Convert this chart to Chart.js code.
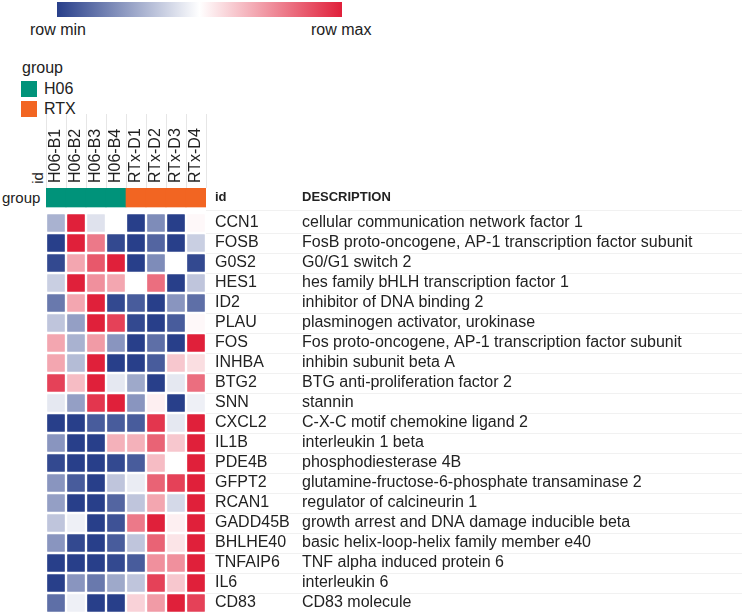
<!DOCTYPE html>
<html>
<head>
<meta charset="utf-8">
<script src="https://cdn.jsdelivr.net/npm/chart.js@4.4.1/dist/chart.umd.min.js"></script>
<style>
  body { margin: 0; background: #fff; font-family: 'Liberation Sans', Arial, sans-serif; color: #222; }
  #wrap { position: relative; width: 742px; height: 612px; overflow: hidden; }
  #heat { position: absolute; left: 0; top: 0; }
  .txt { position: absolute; font-size: 16px; line-height: 16px; white-space: nowrap; }
  .sw { position: absolute; width: 16px; height: 16px; }
  #bar { position: absolute; left: 57px; top: 2px; width: 285px; height: 15px;
         background: linear-gradient(to right, #283f8a 0%, #ffffff 50%, #e0203a 100%); }
  #idlab { transform: rotate(-90deg); transform-origin: center center; }
</style>
</head>
<body>
<div id="wrap">
  <div id="bar"></div>
  <div class="txt" style="left:30px; top:22px;">row min</div>
  <div class="txt" style="left:311px; top:22px;">row max</div>
  <div class="txt" style="left:22px; top:60px;">group</div>
  <div class="sw" style="left:21px; top:81px; background:#00937a;"></div>
  <div class="txt" style="left:44px; top:81px;">H06</div>
  <div class="sw" style="left:21px; top:101px; background:#f26522;"></div>
  <div class="txt" style="left:44px; top:101px;">RTX</div>
  <div class="txt" id="idlab" style="left:32px; top:170px; font-size:15px;">id</div>
  <div class="txt" style="left:2px; top:190px; font-size:15px;">group</div>
  <canvas id="heat" width="742" height="612"></canvas>
</div>
<script>
var samples = ['H06-B1', 'H06-B2', 'H06-B3', 'H06-B4', 'RTx-D1', 'RTx-D2', 'RTx-D3', 'RTx-D4'];
var groups = ['H06', 'H06', 'H06', 'H06', 'RTX', 'RTX', 'RTX', 'RTX'];
var groupColors = { H06: '#00937a', RTX: '#f26522' };

var genes = ['CCN1', 'FOSB', 'G0S2', 'HES1', 'ID2', 'PLAU', 'FOS', 'INHBA', 'BTG2', 'SNN',
  'CXCL2', 'IL1B', 'PDE4B', 'GFPT2', 'RCAN1', 'GADD45B', 'BHLHE40', 'TNFAIP6', 'IL6', 'CD83'];

var descriptions = [
  'cellular communication network factor 1',
  'FosB proto-oncogene, AP-1 transcription factor subunit',
  'G0/G1 switch 2',
  'hes family bHLH transcription factor 1',
  'inhibitor of DNA binding 2',
  'plasminogen activator, urokinase',
  'Fos proto-oncogene, AP-1 transcription factor subunit',
  'inhibin subunit beta A',
  'BTG anti-proliferation factor 2',
  'stannin',
  'C-X-C motif chemokine ligand 2',
  'interleukin 1 beta',
  'phosphodiesterase 4B',
  'glutamine-fructose-6-phosphate transaminase 2',
  'regulator of calcineurin 1',
  'growth arrest and DNA damage inducible beta',
  'basic helix-loop-helix family member e40',
  'TNF alpha induced protein 6',
  'interleukin 6',
  'CD83 molecule'
];

// row-scaled values, -1 = row min, 1 = row max
var expression = [
  [-0.4, 1, -0.15, 0, -1, -0.6, -1, 0.03],
  [-1, 1, 0.6, -0.95, -1, -0.8, -1, -0.25],
  [-0.95, 0.4, 0.75, 1, -1, -0.6, 0, -0.95],
  [-0.25, 1, 0.5, 0.4, 0, 0.65, -1, -0.3],
  [-0.7, 0.4, 1, -0.95, -0.85, -1, -0.55, -0.75],
  [-0.3, -0.5, 1, 0.85, -0.95, -1, -0.85, 0.03],
  [0.4, -0.4, 0.45, -0.55, -1, -0.75, -1, 1],
  [0.4, -0.35, 1, -1, -1, -0.85, 0.25, 0.15],
  [0.85, 0.3, 1, -0.12, -0.45, -1, -0.12, 0.65],
  [-0.12, -0.5, 0.9, 1, -0.55, 0.07, -1, -0.08],
  [-1, -1, -0.85, -0.85, -0.85, 0.9, -0.12, 1],
  [-0.55, -1, -1, 0.35, 0.35, 0.7, 0.25, 1],
  [-0.95, -1, -1, -0.95, -0.85, 0.3, 0, 1],
  [-0.55, -0.85, -1, -0.3, -0.1, 0.7, 0.85, 1],
  [-0.5, -1, -1, -0.8, -0.3, 0.4, -0.2, 1],
  [-0.3, -0.08, -1, -0.9, 0.6, 1, 0.07, 1],
  [-0.55, -0.95, -1, -0.85, -0.3, 0.7, 0.12, 1],
  [-1, -1, -1, -0.95, -0.85, 0.5, 0.5, 1],
  [-1, -0.55, -0.7, -0.45, -0.3, 0.85, 0.25, 1],
  [-0.75, -0.08, -1, -1, 0.2, 0.45, 1, 0.85]
];

var lowColor = [40, 63, 138];
var highColor = [224, 32, 58];

function cellColor(v) {
  var c = v < 0 ? lowColor : highColor;
  var t = Math.min(1, Math.abs(v));
  var r = Math.round(255 + (c[0] - 255) * t);
  var g = Math.round(255 + (c[1] - 255) * t);
  var b = Math.round(255 + (c[2] - 255) * t);
  return 'rgb(' + r + ',' + g + ',' + b + ')';
}

var datasets = [];

// group annotation row above the heatmap
datasets.push({
  label: 'group',
  data: samples.map(function () { return [-1.25, -0.3]; }),
  backgroundColor: groups.map(function (g) { return groupColors[g]; }),
  borderWidth: 0,
  grouped: false,
  barPercentage: 1,
  categoryPercentage: 1
});

genes.forEach(function (gene, i) {
  datasets.push({
    label: gene,
    data: samples.map(function () { return [i, i + 1]; }),
    backgroundColor: expression[i].map(cellColor),
    borderColor: '#ffffff',
    borderWidth: 1.5,
    borderSkipped: false,
    borderRadius: 2,
    grouped: false,
    barPercentage: 1,
    categoryPercentage: 1
  });
});

Chart.defaults.font.family = "'Liberation Sans', Arial, sans-serif";
Chart.defaults.color = '#222';

var GENE_W = 87, DESC_W = 449;

var ctx = document.getElementById('heat').getContext('2d');
new Chart(ctx, {
  type: 'bar',
  data: { labels: samples, datasets: datasets },
  options: {
    responsive: false,
    animation: false,
    devicePixelRatio: 1,
    layout: { padding: { left: 46, top: 0, right: 0, bottom: 0 } },
    plugins: { legend: { display: false }, tooltip: { enabled: false } },
    scales: {
      x: {
        position: 'top',
        offset: true,
        border: { display: false },
        grid: { offset: true, drawOnChartArea: false, tickLength: 74, color: '#e6e6e6' },
        // mirror keeps rotated labels centred on their columns
        ticks: { autoSkip: false, mirror: true, minRotation: 90, maxRotation: 90, padding: -5, font: { size: 16 } },
        afterFit: function (scale) { scale.height = 188; }
      },
      y: {
        position: 'right',
        weight: 0,
        reverse: true,
        min: -1.25,
        max: 19.95,
        border: { display: false },
        // long tick marks give the faint row rules behind the text
        grid: { offset: true, drawOnChartArea: false, tickLength: GENE_W, color: '#f1f1f1' },
        afterBuildTicks: function (scale) {
          scale.ticks = [{ value: -0.8 }].concat(genes.map(function (g, i) { return { value: i + 0.5 }; }));
        },
        ticks: {
          autoSkip: false,
          padding: 9 - GENE_W,
          callback: function (v, idx) { return idx === 0 ? 'id' : genes[idx - 1]; },
          font: function (c) { return c.index === 0 ? { size: 13, weight: 'bold' } : { size: 16 }; }
        },
        afterFit: function (scale) { scale.width = GENE_W; }
      },
      y2: {
        position: 'right',
        weight: 1,
        reverse: true,
        min: -1.25,
        max: 19.95,
        border: { display: false },
        grid: { offset: true, drawOnChartArea: false, tickLength: DESC_W, color: '#f1f1f1' },
        afterBuildTicks: function (scale) {
          scale.ticks = [{ value: -0.8 }].concat(descriptions.map(function (d, i) { return { value: i + 0.5 }; }));
        },
        ticks: {
          autoSkip: false,
          padding: 9 - DESC_W,
          callback: function (v, idx) { return idx === 0 ? 'DESCRIPTION' : descriptions[idx - 1]; },
          font: function (c) { return c.index === 0 ? { size: 13, weight: 'bold' } : { size: 16 }; }
        },
        afterFit: function (scale) { scale.width = DESC_W; }
      }
    }
  }
});
</script>
</body>
</html>
